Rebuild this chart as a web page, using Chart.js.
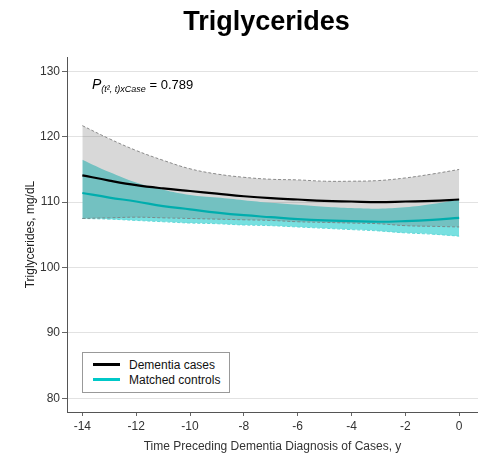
<!DOCTYPE html>
<html>
<head>
<meta charset="utf-8">
<script src="https://cdn.jsdelivr.net/npm/chart.js@4.4.1/dist/chart.umd.min.js"></script>
<style>
  body { margin: 0; background: #fff; font-family: "Liberation Sans", Arial, sans-serif; }
  #wrap { position: relative; width: 478px; height: 461px; overflow: hidden; }
  #title { position: absolute; left: 55px; right: 0; top: 6px; text-align: center; font-weight: bold; font-size: 27px; color: #000; }
  #pval { position: absolute; left: 92px; top: 76px; font-size: 13px; color: #000; white-space: nowrap; }
  #pval i.big { font-size: 14px; }
  #pval sub { font-size: 9px; font-style: italic; vertical-align: -3px; }
  #legend { position: absolute; left: 82px; top: 352px; width: 146px; height: 39px; border: 1px solid #999; background: #fff; font-size: 12px; }
  .item { position: absolute; left: 10px; height: 14px; line-height: 14px; white-space: nowrap; color: #111; }
  .swatch { display: inline-block; width: 27px; height: 3px; vertical-align: middle; margin-right: 9px; position: relative; top: -1px; }
</style>
</head>
<body>
<div id="wrap">
  <canvas id="chart" width="478" height="461"></canvas>
  <div id="title">Triglycerides</div>
  <div id="pval"><i class="big">P</i><sub>(t², t)xCase</sub> = 0.789</div>
  <div id="legend"></div>
</div>
<script>
// years before diagnosis
const years = [-14, -13, -12, -11, -10, -9, -8, -7, -6, -5, -4, -3, -2, -1, 0];

// dementia cases: estimate and 95% CI
const casesMean  = [114.1, 113.3, 112.6, 112.1, 111.7, 111.3, 110.9, 110.6, 110.4, 110.2, 110.1, 110.0, 110.1, 110.2, 110.4];
const casesUpper = [121.7, 119.7, 117.9, 116.4, 115.1, 114.3, 113.8, 113.5, 113.4, 113.2, 113.2, 113.3, 113.7, 114.3, 115.0];
const casesLower = [107.5, 107.6, 107.7, 107.6, 107.5, 107.4, 107.3, 107.2, 107.0, 106.9, 106.8, 106.7, 106.4, 106.3, 106.2];

// matched controls: estimate and 95% CI
const ctrlMean  = [111.4, 110.7, 110.1, 109.4, 108.9, 108.4, 108.0, 107.7, 107.4, 107.2, 107.1, 107.0, 107.1, 107.3, 107.6];
const ctrlUpper = [116.5, 114.6, 113.0, 111.9, 111.1, 110.7, 110.3, 109.9, 109.6, 109.3, 109.1, 109.0, 109.2, 109.7, 110.4];
const ctrlLower = [107.5, 107.4, 107.2, 107.0, 106.8, 106.7, 106.5, 106.4, 106.2, 106.0, 105.8, 105.6, 105.3, 105.1, 104.8];

const legendLabels = ['Dementia cases', 'Matched controls'];
const legendColors = ['#000000', '#00c8c8'];

const pts = arr => arr.map((v, i) => ({ x: years[i], y: v }));

const base = { pointRadius: 0, tension: 0.4, fill: false };

// higher order = drawn earlier (further back)
const datasets = [
  // 0: cases upper CI, translucent grey fill down to cases lower CI (sits over the teal band)
  { ...base, label: 'casesUpper', data: pts(casesUpper), borderColor: '#8a8a8a', borderWidth: 1,
    borderDash: [3, 2], fill: { target: 1 }, backgroundColor: 'rgba(100,100,100,0.25)', order: 4 },
  // 1: cases lower CI
  { ...base, label: 'casesLower', data: pts(casesLower), borderColor: '#7a8a8a', borderWidth: 1,
    borderDash: [3, 2], order: 2 },
  // 2: controls upper CI, filled to controls lower
  { ...base, label: 'ctrlUpper', data: pts(ctrlUpper), borderColor: 'rgba(0,0,0,0)', borderWidth: 0,
    fill: { target: 3 }, backgroundColor: 'rgb(120,224,224)', order: 6 },
  // 3: controls lower CI
  { ...base, label: 'ctrlLower', data: pts(ctrlLower), borderColor: '#5fd8d8', borderWidth: 1,
    borderDash: [3, 2], order: 5 },
  // 4: cases estimate
  { ...base, label: legendLabels[0], data: pts(casesMean), borderColor: '#000', borderWidth: 2.2, order: 0 },
  // 5: controls estimate
  { ...base, label: legendLabels[1], data: pts(ctrlMean), borderColor: '#00adad', borderWidth: 2.2, order: 1 }
];

const tickFont = { family: '"Liberation Sans", Arial, sans-serif', size: 12 };

new Chart(document.getElementById('chart'), {
  type: 'line',
  data: { datasets },
  options: {
    responsive: false,
    animation: false,
    layout: { padding: { top: 57, left: 0, right: 0, bottom: 0 } },
    plugins: { legend: { display: false }, tooltip: { enabled: false } },
    scales: {
      x: {
        type: 'linear',
        min: -14.57,
        max: 0.7,
        ticks: { stepSize: 2, includeBounds: false, color: '#333', font: tickFont, padding: 3, maxRotation: 0 },
        grid: { drawOnChartArea: false, tickLength: 4, tickColor: '#666' },
        border: { color: '#555', width: 1 },
        title: { display: true, text: 'Time Preceding Dementia Diagnosis of Cases, y', color: '#333',
                 font: tickFont, padding: { top: 0, bottom: 7 } },
        afterFit: s => { s.height = 49; }
      },
      y: {
        min: 77.9,
        max: 132.2,
        ticks: { stepSize: 10, includeBounds: false, color: '#333', font: tickFont, padding: 2 },
        grid: { color: '#e2e2e2', tickLength: 5, tickColor: '#666' },
        border: { color: '#555', width: 1 },
        title: { display: true, text: 'Triglycerides, mg/dL', color: '#222', font: tickFont,
                 padding: { top: 23, bottom: 0 } },
        afterFit: s => { s.width = 67; }
      }
    }
  }
});

// legend box
const legendEl = document.getElementById('legend');
legendLabels.forEach((lab, i) => {
  const item = document.createElement('div');
  item.className = 'item';
  item.style.top = (5 + i * 15) + 'px';
  const sw = document.createElement('span');
  sw.className = 'swatch';
  sw.style.background = legendColors[i];
  item.appendChild(sw);
  item.appendChild(document.createTextNode(lab));
  legendEl.appendChild(item);
});
</script>
</body>
</html>
